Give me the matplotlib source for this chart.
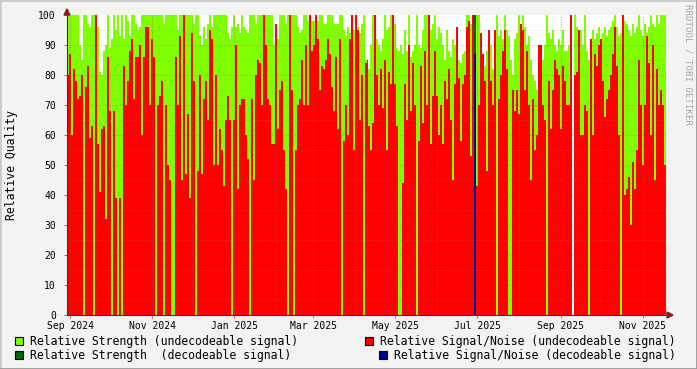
import matplotlib
matplotlib.use("Agg")
import matplotlib.pyplot as plt
import matplotlib.dates as mdates
from matplotlib.patches import Rectangle, Polygon
from matplotlib.lines import Line2D
import pandas as pd
import numpy as np

# ---------------- data ----------------
start_time = "2024-08-29 18:00"
end_time = "2025-11-18 05:00"

strength_undecodeable = [
    100, 100, 100, 100, 100, 100, 90, 85, 100, 100, 97, 96, 100, 100, 100, 96, 81, 80, 88, 90,
    100, 89, 92, 100, 95, 100, 93, 100, 92, 100, 98, 93, 100, 100, 97, 95, 96, 100, 100, 100,
    100, 100, 100, 100, 100, 100, 100, 100, 97, 100,
    100, 100, 100, 100, 100, 95, 100, 100, 100, 100, 100, 100, 100, 97, 100, 100, 93, 90, 96, 92,
    97, 100, 96, 100, 100, 100, 100, 100, 100, 100, 94, 92, 96, 100, 96, 97, 94, 100, 96, 95,
    94, 100, 100, 100, 97, 100, 100, 100, 100, 100,
    100, 100, 100, 90, 83, 92, 100, 100, 100, 97, 100, 100, 100, 100, 100, 96, 94, 95, 100, 100,
    98, 98, 98, 98, 98, 98, 100, 100, 97, 97, 100, 100, 100, 97, 97, 97, 100, 100, 95, 93,
    96, 94, 100, 95, 93, 96, 94, 97, 100, 85,
    85, 82, 90, 100, 100, 92, 90, 88, 92, 100, 95, 96, 100, 100, 97, 89, 88, 90, 87, 95,
    88, 100, 86, 88, 90, 100, 90, 89, 95, 100, 100, 100, 95, 97, 100, 92, 96, 94, 90, 85,
    95, 88, 86, 92, 90, 96, 85, 84, 87, 88,
    100, 100, 97, 100, 0, 100, 100, 92, 85, 83, 88, 95, 90, 82, 85, 100, 93, 95, 92, 100,
    95, 93, 85, 80, 92, 94, 100, 97, 100, 96, 90, 93, 85, 80, 78, 75, 76, 80, 85, 90,
    100, 94, 92, 95, 90, 88, 92, 90, 95, 88,
    88, 90, 100, 0, 100, 96, 92, 95, 90, 100, 88, 85, 86, 95, 92, 94, 96, 92, 94, 96,
    93, 95, 96, 98, 100, 96, 93, 94, 100, 98, 97, 95, 93, 97, 94, 96, 100, 95, 93, 97,
    94, 96, 100, 97, 96, 100, 97, 100, 100, 100,
]

snr_undecodeable = [
    80, 87, 60, 82, 78, 72, 73, 80, 0, 76, 83, 59, 63, 0, 100, 57, 41, 62, 63, 32,
    86, 68, 0, 68, 39, 0, 39, 0, 83, 70, 78, 88, 92, 72, 86, 86, 90, 60, 86, 96,
    96, 70, 92, 86, 0, 70, 73, 78, 0, 70,
    50, 45, 0, 0, 86, 70, 93, 45, 100, 47, 67, 39, 94, 78, 0, 48, 80, 47, 72, 78,
    65, 95, 92, 50, 80, 50, 62, 55, 43, 65, 73, 65, 0, 65, 90, 42, 70, 72, 72, 60,
    52, 0, 72, 45, 80, 85, 84, 70, 100, 90,
    72, 70, 57, 57, 97, 62, 75, 78, 55, 42, 0, 100, 75, 0, 55, 70, 72, 85, 70, 90,
    70, 100, 88, 90, 100, 92, 75, 83, 82, 85, 92, 87, 76, 68, 86, 62, 92, 0, 58, 70,
    60, 92, 100, 55, 100, 95, 65, 80, 0, 84,
    85, 63, 55, 64, 100, 80, 70, 82, 69, 85, 55, 81, 77, 100, 77, 63, 0, 0, 44, 77,
    65, 90, 68, 84, 70, 0, 58, 83, 64, 88, 70, 100, 57, 73, 88, 73, 60, 70, 57, 78,
    72, 82, 65, 45, 77, 96, 79, 58, 77, 80,
    96, 98, 53, 100, 0, 43, 70, 94, 87, 78, 48, 95, 78, 70, 95, 0, 72, 80, 88, 95,
    82, 0, 0, 75, 68, 75, 67, 97, 95, 75, 88, 70, 45, 72, 55, 60, 90, 90, 70, 65,
    0, 78, 62, 75, 85, 82, 80, 62, 83, 78,
    70, 70, 100, 0, 80, 81, 95, 60, 60, 70, 68, 0, 92, 60, 87, 83, 90, 92, 78, 66,
    72, 75, 80, 87, 96, 83, 60, 0, 100, 40, 42, 46, 30, 51, 42, 55, 85, 70, 50, 70,
    93, 84, 60, 90, 45, 82, 70, 75, 70, 50,
]

decodeable_dates = ["2025-06-28 17:00"]
strength_decodeable = [100]
snr_decodeable = [87]

y_ticks = [0, 10, 20, 30, 40, 50, 60, 70, 80, 90, 100]
x_tick_dates = ["2024-09-01", "2024-11-01", "2025-01-01", "2025-03-01",
                "2025-05-01", "2025-07-01", "2025-09-01", "2025-11-01"]
x_tick_labels = ["Sep 2024", "Nov 2024", "Jan 2025", "Mar 2025",
                 "May 2025", "Jul 2025", "Sep 2025", "Nov 2025"]

legend_labels = [
    "Relative Strength (undecodeable signal)",
    "Relative Strength  (decodeable signal)",
    "Relative Signal/Noise (undecodeable signal)",
    "Relative Signal/Noise (decodeable signal)",
]

# ---------------- style ----------------
C_GREEN = "#80FF00"
C_DGREEN = "#006600"
C_RED = "#FF0000"
C_BLUE = "#000099"
MONO = "DejaVu Sans Mono"

W, H = 697, 369
fig = plt.figure(figsize=(W / 100, H / 100), dpi=100)
fig.patch.set_facecolor("#F3F3F3")

ax = fig.add_axes([67 / W, 54 / H, 599 / W, 300 / H])
ax.set_facecolor("white")

n = len(strength_undecodeable)
edges = pd.date_range(start_time, end_time, periods=n + 1)
xl = mdates.date2num(edges[:-1])
step = mdates.date2num(edges[1]) - mdates.date2num(edges[0])

ax.bar(xl, strength_undecodeable, width=step, align="edge", color=C_GREEN,
       linewidth=0, zorder=1)
ax.bar(xl, snr_undecodeable, width=step, align="edge", color=C_RED,
       linewidth=0, zorder=1.1)
dx = mdates.date2num(pd.to_datetime(decodeable_dates))
ax.bar(dx, strength_decodeable, width=step, align="edge", color=C_DGREEN,
       linewidth=0, zorder=1.2)
ax.bar(dx, snr_decodeable, width=step, align="edge", color=C_BLUE,
       linewidth=0, zorder=1.3)

ax.set_xlim(mdates.date2num(pd.Timestamp(start_time)), mdates.date2num(pd.Timestamp(end_time)))
ax.set_ylim(0, 100)

# grid (drawn on top, like rrdtool)
for v in range(5, 100, 10):
    ax.axhline(v, color=(0.55, 0.55, 0.55, 0.45), lw=0.6, ls=(0, (1, 2)), zorder=3)
for v in y_ticks[1:-1]:
    ax.axhline(v, color=(0.6, 0.2, 0.2, 0.45), lw=0.6, ls=(0, (1, 2)), zorder=3)
months = pd.date_range("2024-09-01", "2025-11-01", freq="MS")
for m in months:
    ax.axvline(mdates.date2num(m), color=(0.55, 0.55, 0.55, 0.45), lw=0.6,
               ls=(0, (1, 2)), zorder=3)
for d in x_tick_dates:
    ax.axvline(mdates.date2num(pd.Timestamp(d)), color=(0.6, 0.2, 0.2, 0.45), lw=0.6,
               ls=(0, (1, 2)), zorder=3)

ax.set_yticks(y_ticks)
ax.set_yticklabels([str(v) for v in y_ticks], fontfamily=MONO, fontsize=7)
ax.set_xticks([mdates.date2num(pd.Timestamp(d)) for d in x_tick_dates])
ax.set_xticklabels(x_tick_labels, fontfamily=MONO, fontsize=7)
ax.tick_params(axis="both", length=2, width=0.6, color="#B05050", pad=2)
ax.tick_params(axis="y", pad=6)

for s in ["top", "right"]:
    ax.spines[s].set_visible(False)
for s in ["left", "bottom"]:
    ax.spines[s].set_color("#303848")
    ax.spines[s].set_linewidth(0.8)
    ax.spines[s].set_zorder(4)


def fx(px):
    return px / W


def fy(py):
    return 1 - py / H


# y-axis title
fig.text(fx(12), fy(165), "Relative Quality", rotation=90, ha="center", va="center",
         fontfamily=MONO, fontsize=8.3, color="black")

# arrows
fig.patches.append(Polygon([(fx(64), fy(15)), (fx(70), fy(15)), (fx(67), fy(9))],
                           closed=True, transform=fig.transFigure, color="#8B1A1A",
                           zorder=5))
fig.patches.append(Polygon([(fx(667), fy(312)), (fx(667), fy(318)), (fx(673), fy(315))],
                           closed=True, transform=fig.transFigure, color="#8B1A1A",
                           zorder=5))

# watermark
fig.text(fx(688), fy(4), "RRDTOOL / TOBI OETIKER", rotation=270, ha="center", va="top",
         fontfamily=MONO, fontsize=6.6, color="#A8A8A8")

# legend
legend_items = [
    (15, 341, C_GREEN, legend_labels[0]),
    (15, 355, C_DGREEN, legend_labels[1]),
    (365, 341, C_RED, legend_labels[2]),
    (379, 355, C_BLUE, legend_labels[3]),
]
for x0, yc, col, lab in legend_items:
    fig.patches.append(Rectangle((fx(x0), fy(yc + 4)), 8 / W, 8 / H,
                                 transform=fig.transFigure, facecolor=col,
                                 edgecolor="black", linewidth=0.8))
    fig.text(fx(x0 + 15), fy(yc), lab, ha="left", va="center", fontfamily=MONO,
             fontsize=8.3, color="black")

# 3d frame
fig.lines.append(Line2D([0, 0], [0, 1], transform=fig.transFigure, color="#CBCBCB", lw=2))
fig.lines.append(Line2D([0, 1], [1, 1], transform=fig.transFigure, color="#CBCBCB", lw=2))
fig.lines.append(Line2D([1, 1], [0, 1], transform=fig.transFigure, color="#999999", lw=2))
fig.lines.append(Line2D([0, 1], [0, 0], transform=fig.transFigure, color="#999999", lw=2))

fig.savefig("out.png", dpi=100, facecolor=fig.get_facecolor())
